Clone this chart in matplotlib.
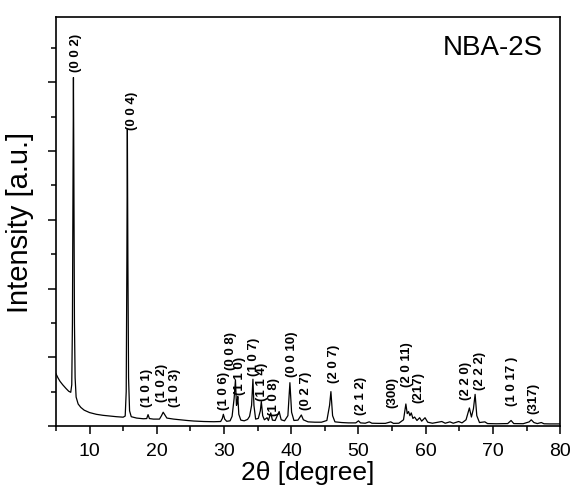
import matplotlib
import matplotlib.pyplot as plt
from matplotlib.ticker import MultipleLocator, NullFormatter

matplotlib.use("Agg", force=True)

# XRD profile (2theta in degree, intensity in a.u.)
two_theta = [
    5.0, 5.3, 5.6, 6.0, 6.5, 6.9, 7.2, 7.35, 7.45, 7.55, 7.6, 7.65, 7.75, 7.85,
    8.0, 8.3, 8.7, 9.2, 10.0, 11.0, 12.0, 13.0, 14.0, 15.0, 15.3, 15.45, 15.55,
    15.62, 15.7, 15.8, 15.95, 16.2, 17.0, 18.0, 18.5, 18.7, 18.9, 19.5, 20.4,
    20.7, 20.95, 21.2, 21.5, 22.5, 23.5, 24.5, 25.5, 27.0, 28.5, 29.5, 29.75,
    29.9, 30.1, 30.4, 30.9, 31.2, 31.5, 31.7, 31.85, 31.95, 32.05, 32.2, 32.5,
    33.0, 33.5, 33.8, 34.1, 34.3, 34.45, 34.7, 35.1, 35.4, 35.55, 35.75, 36.0,
    36.4, 36.6, 36.95, 37.2, 37.6, 38.2, 38.5, 39.0, 39.5, 39.8, 40.05, 40.4,
    41.0, 41.5, 41.8, 42.5, 43.5, 44.5, 45.3, 45.7, 45.9, 46.15, 46.5, 47.5,
    48.5, 49.6, 50.0, 50.3, 51.0, 51.6, 52.0, 53.0, 54.0, 54.8, 55.2, 56.0,
    56.7, 57.05, 57.25, 57.45, 57.65, 57.85, 58.1, 58.35, 58.7, 59.1, 59.4,
    59.9, 60.3, 61.0, 62.4, 62.9, 63.6, 64.1, 64.9, 65.4, 66.0, 66.5, 66.8,
    67.1, 67.35, 67.6, 68.0, 68.8, 69.2, 70.5, 72.2, 72.7, 73.1, 74.5, 75.4,
    75.7, 76.1, 76.6, 77.2, 77.6, 78.5, 80.0,
]
intensity = [
    760, 700, 650, 600, 545, 505, 490, 600, 1500, 4000, 5070, 4000, 1500, 700,
    420, 320, 270, 230, 195, 170, 155, 145, 135, 128, 145, 500, 2400,
    4320, 2400, 700, 220, 135, 115, 105, 108, 165, 108, 100, 100,
    150, 200, 160, 115, 100, 90, 80, 72, 65, 62, 65, 110,
    170, 100, 68, 75, 140, 400, 670, 300, 330, 430, 170, 85,
    75, 95, 140, 300, 680, 300, 100, 110, 220, 355, 150, 90,
    120, 80, 190, 85, 80, 210, 90, 75, 150, 630, 200, 80,
    85, 160, 90, 60, 55, 55, 80, 300, 500, 150, 60, 50,
    45, 45, 75, 45, 40, 60, 40, 38, 38, 60, 38, 40,
    90, 320, 180, 210, 150, 190, 110, 130, 80, 120, 70,
    120, 55, 40, 65, 40, 60, 40, 65, 45, 90, 262, 130,
    250, 460, 150, 50, 60, 35, 32, 35, 80, 35, 33, 60,
    90, 50, 35, 50, 32, 30, 30,
]

# reflection labels (text, 2theta, intensity at the bottom of the label)
peak_labels = ["(0 0 2)", "(0 0 4)", "(1 0 1)", "(1 0 2)", "(1 0 3)", "(1 0 6)",
               "(0 0 8)", "(1 1 0)", "(1 0 7)", "(1 1 4)", "(1 0 8)", "(0 0 10)",
               "(0 2 7)", "(2 0 7)", "(2 1 2)", "(300)", "(2 0 11)", "(217)",
               "(2 2 0)", "(2 2 2)", "(1 0 17 )", "(317)"]
label_x = [7.98, 16.35, 18.6, 20.7, 22.7, 30.0, 31.05, 32.45, 34.4, 35.7, 37.4,
           40.07, 42.2, 46.3, 50.4, 55.1, 57.2, 58.9, 66.0, 68.1, 72.9, 76.0]
label_y = [5154, 4310, 277, 350, 277, 233, 815, 451, 728, 364, 150, 713, 233,
           626, 160, 262, 568, 335, 379, 524, 291, 175]

plt.rcParams["font.family"] = ["Liberation Sans", "DejaVu Sans"]

fig = plt.figure(figsize=(5.71, 4.87), dpi=100)
ax = fig.add_axes([0.098, 0.1253, 0.883, 0.8397])

ax.plot(two_theta, intensity, color="black", lw=0.9)

for text, x, y in zip(peak_labels, label_x, label_y):
    ax.text(x, y, text, rotation=90, ha="center", va="bottom",
            fontsize=9.5, fontweight="bold")

ax.text(0.965, 0.955, "NBA-2S", transform=ax.transAxes, ha="right", va="top",
        fontsize=20)

ax.set_xlim(5, 80)
ax.set_ylim(0, 5950)
ax.xaxis.set_major_locator(MultipleLocator(10))
ax.xaxis.set_minor_locator(MultipleLocator(5))
ax.yaxis.set_major_locator(MultipleLocator(1000))
ax.yaxis.set_minor_locator(MultipleLocator(500))
ax.yaxis.set_major_formatter(NullFormatter())

ax.tick_params(axis="both", which="major", direction="out", length=6, width=1.1,
               labelsize=14, pad=6)
ax.tick_params(axis="both", which="minor", direction="out", length=3.5, width=1.1)
for spine in ax.spines.values():
    spine.set_linewidth(1.2)

ax.set_xlabel("2θ [degree]", fontsize=19, labelpad=1)
ax.set_ylabel("Intensity [a.u.]", fontsize=21)
ax.yaxis.set_label_coords(-0.043, 0.497)

fig.savefig("out.png", dpi=100)
